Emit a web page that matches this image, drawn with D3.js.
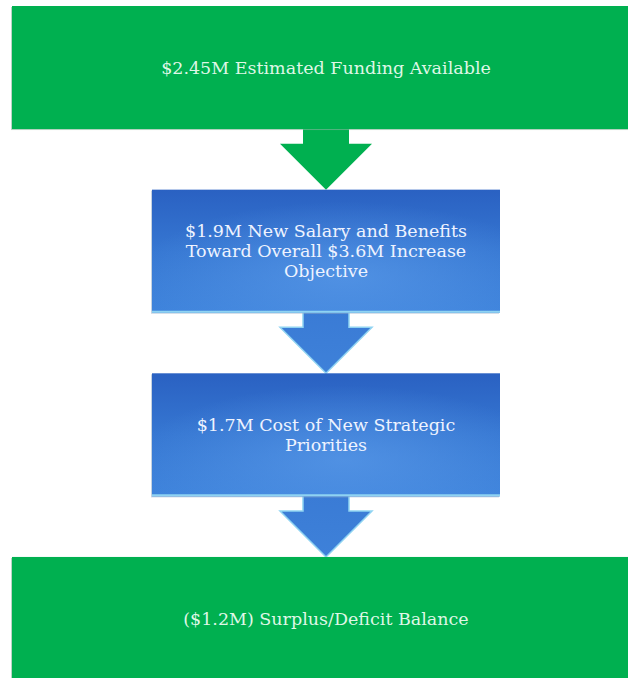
<!DOCTYPE html>
<html>
<head>
<meta charset="utf-8">
<script src="https://cdn.jsdelivr.net/npm/d3@7"></script>
<style>
  html, body { margin: 0; padding: 0; background: #ffffff; }
  svg { display: block; }
</style>
</head>
<body>
<div id="chart"></div>
<script>
// stages of the funding flow, top to bottom
const stageLabels = [
  ["$2.45M Estimated Funding Available"],
  ["$1.9M New Salary and Benefits", "Toward Overall $3.6M Increase", "Objective"],
  ["$1.7M Cost of New Strategic", "Priorities"],
  ["($1.2M) Surplus/Deficit Balance"]
];
const stageKinds = ["funding", "cost", "cost", "balance"];
const stageAmounts = [2.45, 1.9, 1.7, -1.2];

const width = 628;
const height = 678;
const cx = 326;

const svg = d3.select("#chart")
  .append("svg")
  .attr("width", width)
  .attr("height", height);

const defs = svg.append("defs");

// blue box fill: darker at the edges, lighter toward the middle
const boxGrad = defs.append("linearGradient")
  .attr("id", "blueBox")
  .attr("x1", 0).attr("y1", 0).attr("x2", 0).attr("y2", 1);
boxGrad.append("stop").attr("offset", "0%").attr("stop-color", "#2a61c2");
boxGrad.append("stop").attr("offset", "50%").attr("stop-color", "#3677d2");
boxGrad.append("stop").attr("offset", "100%").attr("stop-color", "#3f84dc");

const glow = defs.append("radialGradient")
  .attr("id", "blueGlow")
  .attr("cx", "55%").attr("cy", "70%").attr("r", "60%");
glow.append("stop").attr("offset", "0%").attr("stop-color", "#5c9cea").attr("stop-opacity", 0.65);
glow.append("stop").attr("offset", "100%").attr("stop-color", "#5c9cea").attr("stop-opacity", 0);

const arrowGrad = defs.append("linearGradient")
  .attr("id", "blueArrow")
  .attr("x1", 0).attr("y1", 0).attr("x2", 0).attr("y2", 1);
arrowGrad.append("stop").attr("offset", "0%").attr("stop-color", "#3a7bd5");
arrowGrad.append("stop").attr("offset", "100%").attr("stop-color", "#3e81d9");

// vertical layout of the stages
const y = d3.scaleBand()
  .domain(d3.range(stageLabels.length))
  .range([6, 680])
  .paddingInner(0.33)
  .paddingOuter(0);

const x = d3.scaleOrdinal()
  .domain(["funding", "cost", "balance"])
  .range([[12, 660], [152, 500], [12, 660]]);

const stages = stageLabels.map((lines, i) => ({
  lines: lines,
  kind: stageKinds[i],
  amount: stageAmounts[i],
  i: i
}));

// arrows between stages
const arrows = d3.pairs(stages);
svg.selectAll("path.arrow")
  .data(arrows)
  .enter()
  .append("path")
  .attr("class", "arrow")
  .attr("fill", (d) => d[0].kind === "cost" ? "url(#blueArrow)" : "#00b050")
  .attr("stroke", (d) => d[0].kind === "cost" ? "#8fd3f2" : "none")
  .attr("stroke-width", 1.5)
  .attr("d", (d) => {
    const y0 = y(d[0].i) + y.bandwidth() - 2;
    const y1 = y(d[1].i);
    const head = 46;
    return "M" + (cx - 23) + "," + y0 +
      "L" + (cx + 23) + "," + y0 +
      "L" + (cx + 23) + "," + (y1 - head) +
      "L" + (cx + 46) + "," + (y1 - head) +
      "L" + cx + "," + y1 +
      "L" + (cx - 46) + "," + (y1 - head) +
      "L" + (cx - 23) + "," + (y1 - head) + "Z";
  });

const boxes = svg.selectAll("g.stage")
  .data(stages)
  .enter()
  .append("g")
  .attr("class", "stage");

// soft shadow on the left edge
boxes.append("rect")
  .attr("x", (d) => x(d.kind)[0] - 1)
  .attr("y", (d) => y(d.i) + 1)
  .attr("width", (d) => x(d.kind)[1] - x(d.kind)[0])
  .attr("height", y.bandwidth())
  .attr("fill", (d) => d.kind === "cost" ? "#9fb4cc" : "#8fb8a0")
  .attr("opacity", 0.6);

boxes.append("rect")
  .attr("x", (d) => x(d.kind)[0])
  .attr("y", (d) => y(d.i))
  .attr("width", (d) => x(d.kind)[1] - x(d.kind)[0])
  .attr("height", y.bandwidth())
  .attr("fill", (d) => d.kind === "cost" ? "url(#blueBox)" : "#00b050");

boxes.filter((d) => d.kind === "cost")
  .append("rect")
  .attr("x", (d) => x(d.kind)[0])
  .attr("y", (d) => y(d.i))
  .attr("width", (d) => x(d.kind)[1] - x(d.kind)[0])
  .attr("height", y.bandwidth())
  .attr("fill", "url(#blueGlow)");

// light edge along the bottom of the blue boxes
boxes.filter((d) => d.kind === "cost")
  .append("line")
  .attr("x1", (d) => x(d.kind)[0])
  .attr("x2", (d) => x(d.kind)[1])
  .attr("y1", (d) => y(d.i) + y.bandwidth() - 1)
  .attr("y2", (d) => y(d.i) + y.bandwidth() - 1)
  .attr("stroke", "#8fd3f2")
  .attr("stroke-width", 2);

const lineH = 20;
boxes.append("text")
  .attr("text-anchor", "middle")
  .attr("font-family", "'DejaVu Serif', 'Liberation Serif', serif")
  .attr("font-size", 17.5)
  .attr("fill", (d) => d.kind === "cost" ? "#eef3ff" : "#dff7e6")
  .each(function (d) {
    const mid = y(d.i) + y.bandwidth() / 2;
    const start = mid - (d.lines.length - 1) * lineH / 2;
    d3.select(this)
      .selectAll("tspan")
      .data(d.lines)
      .enter()
      .append("tspan")
      .attr("x", cx)
      .attr("y", (l, j) => start + j * lineH)
      .attr("dy", "0.35em")
      .text((l) => l);
  });
</script>
</body>
</html>
